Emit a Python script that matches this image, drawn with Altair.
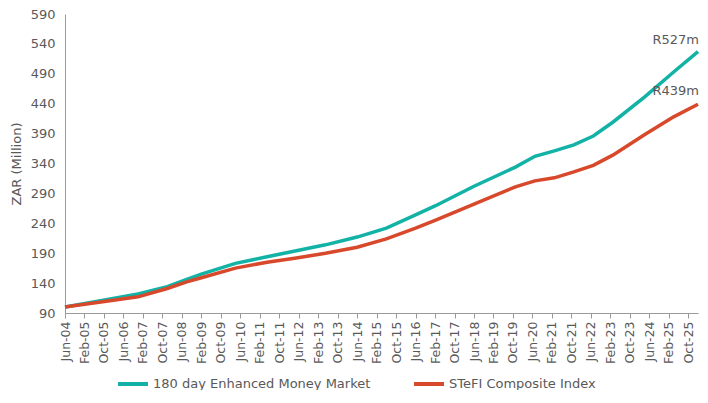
import altair as alt
import pandas as pd

MONTHS = ["Jan", "Feb", "Mar", "Apr", "May", "Jun", "Jul", "Aug", "Sep", "Oct", "Nov", "Dec"]

dates = ["Jun-04", "Aug-05", "Dec-06", "Dec-07", "Aug-08", "Feb-09", "Apr-10", "May-11",
         "May-12", "May-13", "Jun-14", "Jun-15", "Jun-16", "Feb-17", "Jun-18", "Nov-19",
         "Jul-20", "Mar-21", "Nov-21", "Jul-22", "Mar-23", "Apr-24", "Apr-25", "Feb-26"]
emm = [100, 110, 122, 134, 146, 155, 173, 184, 194, 204, 217, 232, 254, 269, 302, 334,
       352, 361, 371, 386, 409, 451, 493, 527]
stefi = [100, 108, 117, 131, 142, 149, 165, 175, 182, 190, 200, 214, 232, 245, 272, 301,
         311, 316, 326, 337, 354, 388, 418, 439]

series_names = ["180 day Enhanced Money Market", "STeFI Composite Index"]
series_colors = ["#13B2A6", "#D8482A"]

tick_labels = ["Jun-04", "Feb-05", "Oct-05", "Jun-06", "Feb-07", "Oct-07", "Jun-08", "Feb-09",
               "Oct-09", "Jun-10", "Feb-11", "Oct-11", "Jun-12", "Feb-13", "Oct-13", "Jun-14",
               "Feb-15", "Oct-15", "Jun-16", "Feb-17", "Oct-17", "Jun-18", "Feb-19", "Oct-19",
               "Jun-20", "Feb-21", "Oct-21", "Jun-22", "Feb-23", "Oct-23", "Jun-24", "Feb-25",
               "Oct-25"]
y_ticks = [90, 140, 190, 240, 290, 340, 390, 440, 490, 540, 590]
end_labels = ["R527m", "R439m"]


def month_index(label):
    mon, yr = label.split("-")
    return (2000 + int(yr) - 2004) * 12 + MONTHS.index(mon) - 5


rows = []
for name, vals in zip(series_names, [emm, stefi]):
    for d, v in zip(dates, vals):
        rows.append({"date": d, "m": month_index(d), "value": v, "series": name})
df = pd.DataFrame(rows)

tick_vals = [month_index(t) for t in tick_labels]
label_expr = "[" + ",".join("'" + t + "'" for t in tick_labels) + "][round(datum.value/8)]"

end_m = month_index(dates[-1])

FONT = "DejaVu Sans"
TXT = "#595959"
AX = "#9a9a9a"

x = alt.X("m:Q",
          scale=alt.Scale(domain=[0, end_m], nice=False, zero=False),
          axis=alt.Axis(values=tick_vals, tickCount=len(tick_vals), labelExpr=label_expr,
                        labelAngle=270, tickSize=5, tickColor=AX, domainColor=AX, grid=False,
                        labelFontSize=12.5, labelColor=TXT, labelFont=FONT,
                        labelPadding=3, title=None, labelOverlap=False))
y = alt.Y("value:Q",
          scale=alt.Scale(domain=[90, 590], nice=False, zero=False),
          axis=alt.Axis(values=y_ticks, tickCount=len(y_ticks), ticks=False, grid=False,
                        domainColor=AX, labelOverlap=False,
                        labelFontSize=13, labelColor=TXT, labelFont=FONT, labelPadding=10,
                        title="ZAR (Million)", titleFontWeight="normal", titleFontSize=13,
                        titleColor=TXT, titleFont=FONT, titlePadding=7))

lines = alt.Chart(df).mark_line(strokeWidth=3.5).encode(
    x=x, y=y,
    color=alt.Color("series:N",
                    scale=alt.Scale(domain=series_names, range=series_colors),
                    sort=series_names,
                    legend=alt.Legend(orient="none", legendX=51, legendY=353,
                                      direction="horizontal", title=None,
                                      symbolType="stroke", symbolSize=900,
                                      symbolStrokeWidth=4, labelFontSize=13,
                                      labelColor=TXT, labelFont=FONT, columnPadding=35,
                                      labelOffset=3, labelLimit=0)),
    order=alt.Order("m:Q"),
)

lab1 = alt.Chart(pd.DataFrame({"m": [end_m], "value": [emm[-1]], "text": [end_labels[0]]})).mark_text(
    align="right", baseline="middle", dx=1, dy=-12, fontSize=13, font=FONT, color=TXT
).encode(x=alt.X("m:Q"), y=alt.Y("value:Q"), text="text:N")
lab2 = alt.Chart(pd.DataFrame({"m": [end_m], "value": [stefi[-1]], "text": [end_labels[1]]})).mark_text(
    align="right", baseline="middle", dx=1, dy=-13, fontSize=13, font=FONT, color=TXT
).encode(x=alt.X("m:Q"), y=alt.Y("value:Q"), text="text:N")

chart = alt.layer(lines, lab1, lab2).properties(
    width=633, height=299,
    autosize=alt.AutoSizeParams(type="none"),
    padding={"left": 57, "top": 6, "right": 2, "bottom": 77},
).configure_view(stroke=None)

chart.save("out.html", embed_options={"renderer": "svg", "actions": False})
